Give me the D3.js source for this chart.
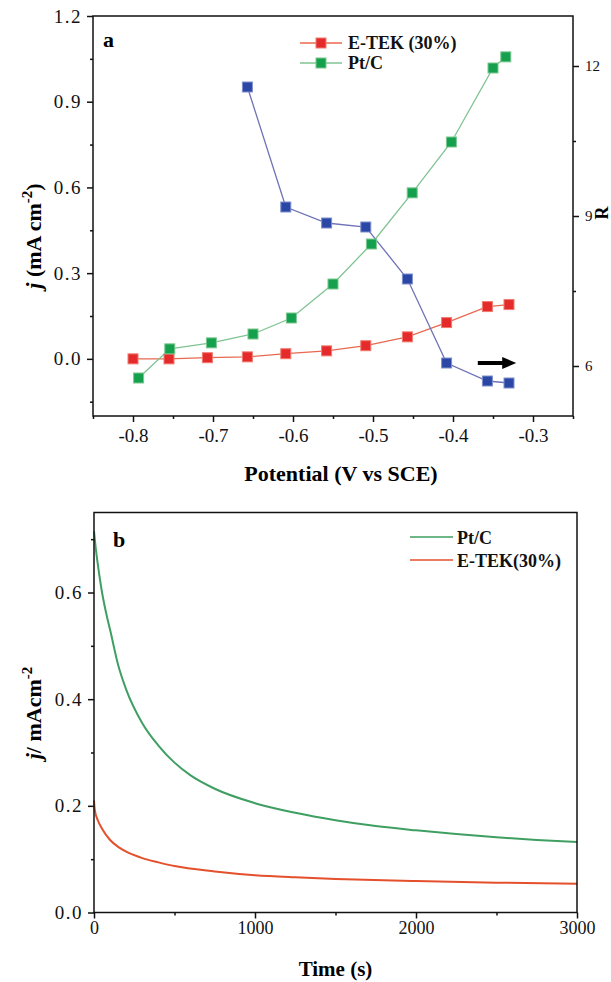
<!DOCTYPE html>
<html>
<head>
<meta charset="utf-8">
<script src="https://cdn.jsdelivr.net/npm/d3@7"></script>
<style>
  html, body { margin: 0; padding: 0; background: #fff; }
  svg { display: block; font-family: "Liberation Serif", "Times New Roman", serif; }
  .tick text { font-family: "Liberation Serif", "Times New Roman", serif; fill: #111; }
</style>
</head>
<body>
<svg id="chart" width="611" height="982"></svg>
<script>
// ---- Panel a data ----
const potE = [-0.800, -0.755, -0.707, -0.657, -0.609, -0.558, -0.509, -0.457, -0.408, -0.357, -0.330];
const jE   = [0.000, 0.000, 0.004, 0.007, 0.018, 0.028, 0.046, 0.077, 0.127, 0.183, 0.190];
const potP = [-0.793, -0.754, -0.702, -0.650, -0.602, -0.550, -0.502, -0.451, -0.402, -0.350, -0.334];
const jP   = [-0.067, 0.035, 0.056, 0.087, 0.143, 0.262, 0.402, 0.581, 0.759, 1.018, 1.057];
const potR = [-0.657, -0.609, -0.558, -0.509, -0.457, -0.408, -0.357, -0.330];
const ratioR = [11.58, 9.18, 8.86, 8.78, 7.74, 6.06, 5.70, 5.66];
const xTicksA = [-0.8, -0.7, -0.6, -0.5, -0.4, -0.3];
const yTicksA = [0.0, 0.3, 0.6, 0.9, 1.2];
const rTicksA = [6, 9, 12];
const legendA = ["E-TEK (30%)", "Pt/C"];

// ---- Panel b data ----
const timeP = [0, 10, 25, 50, 75, 100, 150, 200, 300, 400, 500, 600, 750, 1000, 1250, 1500, 1750, 2000, 2250, 2500, 2750, 3000];
const curP  = [0.715, 0.685, 0.650, 0.600, 0.562, 0.530, 0.464, 0.418, 0.355, 0.313, 0.281, 0.257, 0.232, 0.205, 0.187, 0.173, 0.162, 0.154, 0.147, 0.141, 0.136, 0.132];
const timeE = [0, 5, 25, 50, 100, 150, 200, 300, 400, 500, 750, 1000, 1250, 1500, 2000, 2500, 3000];
const curE  = [0.210, 0.192, 0.172, 0.157, 0.136, 0.123, 0.114, 0.102, 0.094, 0.087, 0.077, 0.070, 0.066, 0.063, 0.059, 0.056, 0.054];
const xTicksB = [0, 1000, 2000, 3000];
const yTicksB = [0.0, 0.2, 0.4, 0.6];
const legendB = ["Pt/C", "E-TEK(30%)"];

const svg = d3.select("#chart");
const FONT = '"Liberation Serif", "Times New Roman", serif';
const fmt1 = d => d3.format(".1f")(d).replace("\u2212", "-");

function styleAxis(g, fs, ls) {
  g.select(".domain").remove();
  g.selectAll(".tick line").attr("stroke", "#111").attr("stroke-width", 1.5);
  g.selectAll(".tick text").attr("font-size", fs).attr("letter-spacing", ls || 0);
}

// ================= Panel a =================
const A = { l: 93, r: 573, t: 16, b: 416 };
const xA = d3.scaleLinear().domain([-0.85, -0.25]).range([A.l, A.r]);
const yA = d3.scaleLinear().domain([-0.2, 1.2]).range([A.b, A.t]);
const rA = d3.scaleLinear().domain([5, 13]).range([A.b, A.t]);

const gA = svg.append("g");

// minor ticks
gA.append("g").attr("transform", `translate(0,${A.b})`)
  .call(d3.axisBottom(xA).tickValues([-0.85, -0.75, -0.65, -0.55, -0.45, -0.35, -0.25]).tickSize(3).tickFormat(""))
  .call(g => styleAxis(g, 0));
gA.append("g").attr("transform", `translate(${A.l},0)`)
  .call(d3.axisLeft(yA).tickValues([-0.15, 0.15, 0.45, 0.75, 1.05]).tickSize(3).tickFormat(""))
  .call(g => styleAxis(g, 0));
gA.append("g").attr("transform", `translate(${A.r},0)`)
  .call(d3.axisRight(rA).tickValues([7.5, 10.5]).tickSize(3).tickFormat(""))
  .call(g => styleAxis(g, 0));

// major ticks
gA.append("g").attr("transform", `translate(0,${A.b})`)
  .call(d3.axisBottom(xA).tickValues(xTicksA).tickSize(6).tickPadding(7).tickFormat(fmt1))
  .call(g => styleAxis(g, 19));
gA.append("g").attr("transform", `translate(${A.l},0)`)
  .call(d3.axisLeft(yA).tickValues(yTicksA).tickSize(6).tickPadding(5).tickFormat(fmt1))
  .call(g => styleAxis(g, 19, 1.5));
gA.append("g").attr("transform", `translate(${A.r},0)`)
  .call(d3.axisRight(rA).tickValues(rTicksA).tickSize(6).tickPadding(6).tickFormat(d3.format("d")))
  .call(g => styleAxis(g, 15));

// lines
const lineE = d3.line().x((d, i) => xA(potE[i])).y(d => yA(d));
const lineP = d3.line().x((d, i) => xA(potP[i])).y(d => yA(d));
const lineR = d3.line().x((d, i) => xA(potR[i])).y(d => rA(d));
gA.append("path").attr("d", lineE(jE)).attr("fill", "none").attr("stroke", "#e8694f").attr("stroke-width", 1.3);
gA.append("path").attr("d", lineP(jP)).attr("fill", "none").attr("stroke", "#80c393").attr("stroke-width", 1.3);
gA.append("path").attr("d", lineR(ratioR)).attr("fill", "none").attr("stroke", "#6f72b6").attr("stroke-width", 1.3);

const S = 10;
function squares(xs, ys, yScale, fill, stroke) {
  gA.append("g").selectAll("rect").data(ys).join("rect")
    .attr("x", (d, i) => xA(xs[i]) - S / 2)
    .attr("y", d => yScale(d) - S / 2)
    .attr("width", S).attr("height", S)
    .attr("fill", fill).attr("stroke", stroke).attr("stroke-width", 1);
}
squares(potE, jE, yA, "#e42a2b", "#f07a6e");
squares(potP, jP, yA, "#14a04c", "#7cc790");
squares(potR, ratioR, rA, "#2b47a6", "#7f8fcc");

// arrow pointing to right axis
const ax0 = xA(-0.369), ax1 = xA(-0.321), ay = rA(6.06);
gA.append("line").attr("x1", ax0).attr("x2", ax1 - 12).attr("y1", ay).attr("y2", ay)
  .attr("stroke", "#000").attr("stroke-width", 4);
gA.append("path").attr("d", `M${ax1 - 14},${ay - 6} L${ax1},${ay} L${ax1 - 14},${ay + 6} Z`).attr("fill", "#000");

// frame
gA.append("rect").attr("x", A.l).attr("y", A.t).attr("width", A.r - A.l).attr("height", A.b - A.t)
  .attr("fill", "none").attr("stroke", "#111").attr("stroke-width", 1.5);

// legend a
const legColA = [["#e8694f", "#e42a2b", "#f07a6e"], ["#80c393", "#14a04c", "#7cc790"]];
legendA.forEach((name, i) => {
  const y = 43 + i * 20;
  gA.append("line").attr("x1", 300).attr("x2", 342).attr("y1", y).attr("y2", y).attr("stroke", legColA[i][0]).attr("stroke-width", 1.3);
  gA.append("rect").attr("x", 321 - S / 2).attr("y", y - S / 2).attr("width", S).attr("height", S)
    .attr("fill", legColA[i][1]).attr("stroke", legColA[i][2]).attr("stroke-width", 1);
  gA.append("text").attr("x", 348).attr("y", y + 6).attr("font-size", 18).attr("font-weight", "bold")
    .attr("font-family", FONT).attr("fill", "#111").text(name);
});

gA.append("text").attr("x", 103).attr("y", 47).attr("font-size", 22).attr("font-weight", "bold").attr("font-family", FONT).text("a");

// axis titles a
gA.append("text").attr("x", (A.l + A.r) / 2 + 8).attr("y", 481).attr("text-anchor", "middle")
  .attr("font-size", 22).attr("font-weight", "bold").attr("font-family", FONT).text("Potential (V vs SCE)");
const ytA = gA.append("text").attr("transform", "translate(41,236) rotate(-90)").attr("text-anchor", "middle")
  .attr("font-size", 22).attr("font-weight", "bold").attr("font-family", FONT);
ytA.append("tspan").attr("font-style", "italic").text("j");
ytA.append("tspan").text(" (mA cm");
ytA.append("tspan").attr("font-size", 15).attr("dy", -9).text("-2");
ytA.append("tspan").attr("dy", 9).text(")");
gA.append("text").attr("transform", "translate(608,213) rotate(-90)").attr("text-anchor", "middle")
  .attr("font-size", 18).attr("font-weight", "bold").attr("font-family", FONT).text("R");

// ================= Panel b =================
const B = { l: 94, r: 577, t: 512.5, b: 912.5 };
const xB = d3.scaleLinear().domain([0, 3000]).range([B.l, B.r]);
const yB = d3.scaleLinear().domain([0, 0.75]).range([B.b, B.t]);
const gB = svg.append("g");

gB.append("g").attr("transform", `translate(0,${B.b})`)
  .call(d3.axisBottom(xB).tickValues([500, 1500, 2500]).tickSize(3).tickFormat(""))
  .call(g => styleAxis(g, 0));
gB.append("g").attr("transform", `translate(${B.l},0)`)
  .call(d3.axisLeft(yB).tickValues([0.1, 0.3, 0.5, 0.7]).tickSize(3).tickFormat(""))
  .call(g => styleAxis(g, 0));
gB.append("g").attr("transform", `translate(0,${B.b})`)
  .call(d3.axisBottom(xB).tickValues(xTicksB).tickSize(6).tickPadding(3).tickFormat(d3.format("d")))
  .call(g => styleAxis(g, 18));
gB.append("g").attr("transform", `translate(${B.l},0)`)
  .call(d3.axisLeft(yB).tickValues(yTicksB).tickSize(6).tickPadding(5).tickFormat(fmt1))
  .call(g => styleAxis(g, 19, 1.5));

const lineB = (ts) => d3.line().curve(d3.curveMonotoneX).x((d, i) => xB(ts[i])).y(d => yB(d));
gB.append("path").attr("d", lineB(timeP)(curP)).attr("fill", "none").attr("stroke", "#3f9f62").attr("stroke-width", 2);
gB.append("path").attr("d", lineB(timeE)(curE)).attr("fill", "none").attr("stroke", "#e4502c").attr("stroke-width", 2);

gB.append("rect").attr("x", B.l).attr("y", B.t).attr("width", B.r - B.l).attr("height", B.b - B.t)
  .attr("fill", "none").attr("stroke", "#111").attr("stroke-width", 1.5);

const legColB = ["#3f9f62", "#e4502c"];
legendB.forEach((name, i) => {
  const y = 537 + i * 23;
  gB.append("line").attr("x1", 410).attr("x2", 453).attr("y1", y).attr("y2", y).attr("stroke", legColB[i]).attr("stroke-width", 1.5);
  gB.append("text").attr("x", 457).attr("y", y + 7).attr("font-size", 18).attr("font-weight", "bold")
    .attr("font-family", FONT).attr("fill", "#111").text(name);
});

gB.append("text").attr("x", 113).attr("y", 547).attr("font-size", 22).attr("font-weight", "bold").attr("font-family", FONT).text("b");

gB.append("text").attr("x", (B.l + B.r) / 2).attr("y", 976).attr("text-anchor", "middle")
  .attr("font-size", 21).attr("font-weight", "bold").attr("font-family", FONT).text("Time (s)");
const ytB = gB.append("text").attr("transform", "translate(41,713) rotate(-90)").attr("text-anchor", "middle")
  .attr("font-size", 22).attr("font-weight", "bold").attr("font-family", FONT);
ytB.append("tspan").attr("font-style", "italic").text("j");
ytB.append("tspan").text("/ mAcm");
ytB.append("tspan").attr("font-size", 15).attr("dy", -9).text("-2");
</script>
</body>
</html>
